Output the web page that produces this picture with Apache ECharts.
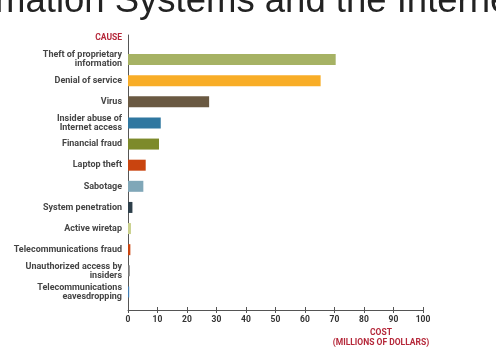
<!DOCTYPE html>
<html>
<head>
<meta charset="utf-8">
<script src="https://cdn.jsdelivr.net/npm/echarts@6/dist/echarts.min.js"></script>
<style>html,body{margin:0;padding:0;background:#fff}#c{width:496px;height:355px}</style>
</head>
<body>
<div id="c"></div>
<script>
const causes = [
  'Theft of proprietary\ninformation',
  'Denial of service',
  'Virus',
  'Insider abuse of\nInternet access',
  'Financial fraud',
  'Laptop theft',
  'Sabotage',
  'System penetration',
  'Active wiretap',
  'Telecommunications fraud',
  'Unauthorized access by\ninsiders',
  'Telecommunications\neavesdropping'
];
const costs = [70.4, 65.3, 27.5, 11.1, 10.5, 6.0, 5.2, 1.5, 1.0, 0.8, 0.6, 0.4];
const costTicks = [0, 10, 20, 30, 40, 50, 60, 70, 80, 90, 100];
const barColors = ['#a6b264', '#f8ad27', '#6a5942', '#2f77a0', '#7d8a2b', '#c9440f',
  '#80a7b8', '#2d3f4a', '#c9d08c', '#c9440f', '#7a7a7a', '#3f7cb2'];

const chart = echarts.init(document.getElementById('c'), null, {renderer: 'canvas'});
const labelFont = {fontFamily: 'Roboto', fontWeight: 'bold', fontSize: 9, color: '#454545'};
const red = '#b5283a';
chart.setOption({
  animation: false,
  grid: [
    {left: 128, right: 73, top: 49, height: 253.5},
    {left: 128, right: 73, top: 35, height: 275}
  ],
  xAxis: [
    {gridIndex: 0, type: 'value', min: 0, max: 100, show: false},
    {gridIndex: 1, type: 'value', min: costTicks[0], max: costTicks[costTicks.length - 1], interval: 10,
      axisLine: {show: true, lineStyle: {color: '#555', width: 1}},
      axisTick: {show: true, length: 3, lineStyle: {color: '#555'}},
      splitLine: {show: false},
      axisLabel: {margin: 5, fontFamily: 'Roboto', fontWeight: 'bold', fontSize: 8.5, color: '#333'}},
    {gridIndex: 1, type: 'value', min: 0, max: 100, interval: 10, position: 'bottom',
      axisLine: {show: false}, axisTick: {show: true, inside: true, length: 3, lineStyle: {color: '#555'}},
      axisLabel: {show: false}, splitLine: {show: false}}
  ],
  yAxis: [
    {gridIndex: 0, type: 'category', data: causes, inverse: true,
      axisLine: {show: false}, axisTick: {show: false},
      axisLabel: Object.assign({margin: 6, lineHeight: 9, align: 'right'}, labelFont)},
    {gridIndex: 1, type: 'value', min: 0, max: 1,
      axisLine: {show: true, lineStyle: {color: '#555', width: 1}},
      axisTick: {show: false}, axisLabel: {show: false}, splitLine: {show: false}}
  ],
  series: [{
    type: 'bar', xAxisIndex: 0, yAxisIndex: 0, barWidth: 11,
    data: costs.map((v, i) => ({value: v, itemStyle: {color: barColors[i]}}))
  }],
  graphic: [
    {type: 'text', x: -78, y: 2, style: {text: 'Information Systems and the Internet',
      font: '36.5px "Liberation Sans"', fill: '#222', verticalAlign: 'middle'}},
    {type: 'text', right: 374, top: 33, style: {text: 'CAUSE', font: 'bold 8.5px Roboto', fill: red}},
    {type: 'text', x: 381, y: 328, style: {text: 'COST\n(MILLIONS OF DOLLARS)', font: 'bold 8.5px Roboto',
      fill: red, align: 'center', lineHeight: 10}}
  ]
});
</script>
</body>
</html>
